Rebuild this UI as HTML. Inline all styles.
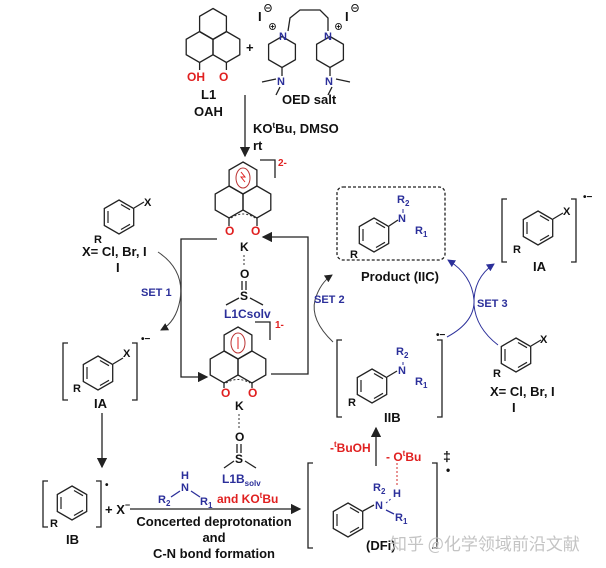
<!DOCTYPE html>
<html><head><meta charset="utf-8"><style>
html,body{margin:0;padding:0;background:#fff;}
svg{display:block;font-family:"Liberation Sans","Noto Sans CJK SC",sans-serif;font-weight:bold;}
.b{fill:none;stroke:#222;stroke-width:1.3}
.bl{fill:#2b2f9a}.rd{fill:#e02020}.k{fill:#111}
</style></head><body>
<svg width="606" height="568" viewBox="0 0 606 568" xmlns="http://www.w3.org/2000/svg">
<defs>
<polygon id="h" points="0,-15.5 13.4,-7.75 13.4,7.75 0,15.5 -13.4,7.75 -13.4,-7.75" fill="none" stroke="#222" stroke-width="1.3"/>
<polygon id="hs" points="0,-16 13.9,-8 13.9,8 0,16 -13.9,8 -13.9,-8" fill="none" stroke="#222" stroke-width="1.3"/>
<g id="ar6"><polygon points="0,-17 14.7,-8.5 14.7,8.5 0,17 -14.7,8.5 -14.7,-8.5" fill="none" stroke="#222" stroke-width="1.3"/>
<line x1="2" y1="-12.5" x2="11" y2="-7.3" stroke="#222" stroke-width="1.2"/><line x1="11" y1="7.3" x2="2" y2="12.5" stroke="#222" stroke-width="1.2"/><line x1="-11" y1="-6" x2="-11" y2="6" stroke="#222" stroke-width="1.2"/></g>
<marker id="ar" markerWidth="8" markerHeight="8" refX="7" refY="4" orient="auto"><path d="M0,0 L8,4 L0,8z" fill="#222"/></marker>
<marker id="ab" markerWidth="8" markerHeight="8" refX="7" refY="4" orient="auto"><path d="M0,0 L8,4 L0,8z" fill="#2b2f9a"/></marker>
</defs>

<!-- L1 OAH -->
<use href="#h" x="213" y="24"/><use href="#h" x="199.6" y="47"/><use href="#h" x="226.4" y="47"/>
<line class="b" x1="199.6" y1="62" x2="199.6" y2="70"/><line class="b" x1="226.4" y1="62" x2="226.4" y2="70"/>
<text x="187" y="81" font-size="12" class="rd">OH</text><text x="219" y="81" font-size="12" class="rd">O</text>
<text x="201" y="99" font-size="13" class="k">L1</text><text x="194" y="116" font-size="13" class="k">OAH</text>
<text x="246" y="52" font-size="13" class="k">+</text>
<!-- OED salt -->
<text x="258" y="21" font-size="13" class="k">I</text><text x="263" y="12" font-size="10" class="k">⊖</text>
<text x="345" y="21" font-size="13" class="k">I</text><text x="350" y="12" font-size="10" class="k">⊖</text>
<use href="#h" x="282" y="52"/><use href="#h" x="330" y="52"/>
<text x="279" y="40" font-size="11" class="bl">N</text><text x="324" y="40" font-size="11" class="bl">N</text>
<text x="268" y="30" font-size="9" class="k">⊕</text><text x="334" y="30" font-size="9" class="k">⊕</text>
<polyline class="b" points="288,31 290,18 300,10 320,10 328,18 328,31"/>
<line class="b" x1="282" y1="67" x2="282" y2="76"/><line class="b" x1="330" y1="67" x2="330" y2="76"/>
<text x="277" y="85" font-size="11" class="bl">N</text><text x="325" y="85" font-size="11" class="bl">N</text>
<line class="b" x1="262" y1="82" x2="276" y2="79"/><line class="b" x1="280" y1="87" x2="276" y2="95"/>
<line class="b" x1="336" y1="79" x2="350" y2="82"/><line class="b" x1="332" y1="87" x2="328" y2="95"/>
<text x="282" y="104" font-size="13" class="k">OED salt</text>
<!-- reagent arrow -->
<line class="b" x1="245" y1="95" x2="245" y2="156" marker-end="url(#ar)"/>
<text x="253" y="133" font-size="13" class="k">KO<tspan font-size="8" dy="-5">t</tspan><tspan dy="5">Bu, DMSO</tspan></text>
<text x="253" y="150" font-size="13" class="k">rt</text>

<!-- central L1C -->
<use href="#hs" x="243" y="178"/><use href="#hs" x="229.1" y="202"/><use href="#hs" x="256.9" y="202"/>
<ellipse cx="243" cy="178" rx="7" ry="10" fill="none" stroke="#b33" stroke-width="1"/>
<path d="M241,172 l4,5 l-4,0 l4,5" fill="none" stroke="#e02020" stroke-width="1"/>
<polyline class="b" points="260,160 275,160 275,178"/><text x="278" y="166" font-size="10" class="rd">2-</text>
<line class="b" x1="229" y1="218" x2="229" y2="226"/><line class="b" x1="257" y1="218" x2="257" y2="226"/>
<path d="M231,218 Q243,210 255,218" fill="none" stroke="#333" stroke-dasharray="2,2"/>
<text x="225" y="235" font-size="12" class="rd">O</text><text x="251" y="235" font-size="12" class="rd">O</text>
<text x="240" y="251" font-size="12" class="k">K</text>
<line x1="244" y1="255" x2="244" y2="267" stroke="#333" stroke-dasharray="2,2"/>
<text x="240" y="278" font-size="12" class="k">O</text>
<line class="b" x1="242" y1="281" x2="242" y2="290"/><line class="b" x1="246" y1="281" x2="246" y2="290"/>
<text x="240" y="300" font-size="12" class="k">S</text>
<line class="b" x1="239" y1="298" x2="226" y2="305"/><line class="b" x1="250" y1="298" x2="263" y2="305"/>
<text x="224" y="318" font-size="12" class="bl">L1Csolv</text>

<!-- cycle lines -->
<polyline class="b" points="217,239 181,239 181,377 207,377" marker-end="url(#ar)"/>
<polyline class="b" points="271,374 308,374 308,237 263,237" marker-end="url(#ar)"/>

<!-- L1B -->
<use href="#hs" x="238" y="343"/><use href="#hs" x="224.1" y="367"/><use href="#hs" x="251.9" y="367"/>
<ellipse cx="238" cy="343" rx="7" ry="10" fill="none" stroke="#b33" stroke-width="1"/>
<line x1="238" y1="337" x2="238" y2="349" stroke="#e02020"/>
<polyline class="b" points="255,322 270,322 270,340"/><text x="275" y="328" font-size="10" class="rd">1-</text>
<line class="b" x1="224" y1="383" x2="224" y2="388"/><line class="b" x1="252" y1="383" x2="252" y2="388"/>
<path d="M226,383 Q238,376 250,383" fill="none" stroke="#333" stroke-dasharray="2,2"/>
<text x="221" y="397" font-size="12" class="rd">O</text><text x="248" y="397" font-size="12" class="rd">O</text>
<text x="235" y="410" font-size="12" class="k">K</text>
<line x1="239" y1="414" x2="239" y2="428" stroke="#333" stroke-dasharray="2,2"/>
<text x="235" y="441" font-size="12" class="k">O</text>
<line class="b" x1="237" y1="444" x2="237" y2="453"/><line class="b" x1="241" y1="444" x2="241" y2="453"/>
<text x="235" y="463" font-size="12" class="k">S</text>
<line class="b" x1="234" y1="461" x2="224" y2="468"/><line class="b" x1="245" y1="461" x2="256" y2="468"/>
<text x="222" y="483" font-size="12" class="bl">L1B<tspan font-size="8" dy="3">solv</tspan></text>

<!-- left aryl -->
<use href="#ar6" x="119" y="217"/>
<line class="b" x1="134" y1="208" x2="144" y2="202"/><text x="144" y="206" font-size="11" class="k">X</text>
<text x="94" y="243" font-size="11" class="k">R</text>
<text x="82" y="256" font-size="13" class="k">X= Cl, Br, I</text><text x="116" y="272" font-size="13" class="k">I</text>
<!-- SET1 -->
<path d="M158,252 Q185,270 180,300 Q176,322 161,330" fill="none" stroke="#444" stroke-width="1" marker-end="url(#ar)"/>
<text x="141" y="296" font-size="11" class="bl">SET 1</text>
<!-- IA left -->
<polyline class="b" points="68,343 63,343 63,400 68,400"/><polyline class="b" points="132,343 137,343 137,400 132,400"/>
<text x="141" y="342" font-size="10" class="k">•−</text>
<use href="#ar6" x="98" y="373"/>
<line class="b" x1="113" y1="364" x2="123" y2="358"/><text x="123" y="357" font-size="11" class="k">X</text>
<text x="73" y="392" font-size="11" class="k">R</text>
<text x="94" y="408" font-size="13" class="k">IA</text>
<line class="b" x1="102" y1="413" x2="102" y2="467" marker-end="url(#ar)"/>
<!-- IB -->
<polyline class="b" points="48,481 43,481 43,527 48,527"/><polyline class="b" points="96,481 101,481 101,527 96,527"/>
<text x="105" y="488" font-size="10" class="k">•</text>
<use href="#ar6" x="72" y="503"/>
<text x="50" y="527" font-size="11" class="k">R</text>
<text x="66" y="544" font-size="13" class="k">IB</text>
<text x="105" y="514" font-size="13" class="k">+ X<tspan font-size="9" dy="-6">−</tspan></text>
<!-- amine & arrow -->
<text x="181" y="479" font-size="11" class="bl">H</text><text x="181" y="491" font-size="11" class="bl">N</text>
<line class="b" x1="171" y1="497" x2="180" y2="491" style="stroke:#2b2f9a"/>
<line class="b" x1="191" y1="491" x2="200" y2="497" style="stroke:#2b2f9a"/>
<text x="158" y="503" font-size="11" class="bl">R<tspan font-size="8" dy="3">2</tspan></text>
<text x="200" y="505" font-size="11" class="bl">R<tspan font-size="8" dy="3">1</tspan></text>
<text x="217" y="503" font-size="12" class="rd">and KO<tspan font-size="8" dy="-5">t</tspan><tspan dy="5">Bu</tspan></text>
<line class="b" x1="130" y1="509" x2="300" y2="509" marker-end="url(#ar)"/>
<text x="214" y="526" font-size="13" class="k" text-anchor="middle">Concerted deprotonation</text>
<text x="214" y="542" font-size="13" class="k" text-anchor="middle">and</text>
<text x="214" y="558" font-size="13" class="k" text-anchor="middle">C-N bond formation</text>

<!-- DFi -->
<polyline class="b" points="313,463 308,463 308,548 313,548"/><polyline class="b" points="432,463 437,463 437,548 432,548"/>
<text x="443" y="461" font-size="14" class="k">‡</text><text x="446" y="474" font-size="12" class="k">•</text>
<use href="#ar6" x="348" y="520"/>
<line class="b" x1="363" y1="511" x2="374" y2="505"/>
<text x="375" y="509" font-size="11" class="bl">N</text>
<text x="373" y="491" font-size="11" class="bl">R<tspan font-size="8" dy="3">2</tspan></text>
<line x1="386" y1="503" x2="392" y2="498" stroke="#2b2f9a" stroke-dasharray="2,2"/>
<text x="393" y="497" font-size="11" class="bl">H</text>
<line class="b" x1="386" y1="510" x2="394" y2="514" style="stroke:#2b2f9a"/>
<text x="395" y="521" font-size="11" class="bl">R<tspan font-size="8" dy="3">1</tspan></text>
<line x1="397" y1="463" x2="397" y2="486" stroke="#e07070" stroke-width="1.5" stroke-dasharray="2,2"/>
<text x="386" y="461" font-size="12" class="rd">- O<tspan font-size="8" dy="-5">t</tspan><tspan dy="5">Bu</tspan></text>
<text x="330" y="452" font-size="12" class="rd">-<tspan font-size="8" dy="-5">t</tspan><tspan dy="5">BuOH</tspan></text>
<line class="b" x1="376" y1="466" x2="376" y2="428" marker-end="url(#ar)"/>
<text x="366" y="550" font-size="13" class="k">(DFi)</text>

<!-- IIB -->
<polyline class="b" points="342,340 337,340 337,417 342,417"/><polyline class="b" points="437,340 442,340 442,417 437,417"/>
<text x="436" y="338" font-size="10" class="k">•−</text>
<use href="#ar6" x="372" y="386"/>
<line class="b" x1="387" y1="377" x2="397" y2="371"/>
<text x="398" y="374" font-size="11" class="bl">N</text>
<line x1="403" y1="362" x2="403" y2="365" stroke="#2b2f9a"/>
<text x="396" y="355" font-size="11" class="bl">R<tspan font-size="8" dy="3">2</tspan></text>
<text x="415" y="385" font-size="11" class="bl">R<tspan font-size="8" dy="3">1</tspan></text>
<text x="348" y="406" font-size="11" class="k">R</text>
<text x="384" y="422" font-size="13" class="k">IIB</text>
<!-- SET2 -->
<path d="M333,342 Q310,320 315,300 Q320,283 332,275" fill="none" stroke="#444" stroke-width="1" marker-end="url(#ar)"/>
<text x="314" y="303" font-size="11" class="bl">SET 2</text>
<!-- product -->
<rect x="337" y="187" width="108" height="73" rx="6" fill="none" stroke="#222" stroke-dasharray="3,2" stroke-width="1.3"/>
<use href="#ar6" x="374" y="235"/>
<line class="b" x1="389" y1="226" x2="398" y2="220"/>
<text x="398" y="222" font-size="11" class="bl">N</text>
<line x1="403" y1="209" x2="403" y2="213" stroke="#2b2f9a"/>
<text x="397" y="203" font-size="11" class="bl">R<tspan font-size="8" dy="3">2</tspan></text>
<text x="415" y="234" font-size="11" class="bl">R<tspan font-size="8" dy="3">1</tspan></text>
<text x="350" y="258" font-size="11" class="k">R</text>
<text x="361" y="281" font-size="13" class="k">Product (IIC)</text>
<!-- SET3 -->
<path d="M447,337 Q475,322 474,300 Q472,275 448,260" fill="none" stroke="#2b2f9a" stroke-width="1" marker-end="url(#ab)"/>
<path d="M498,345 Q476,328 474,305 Q473,278 494,264" fill="none" stroke="#2b2f9a" stroke-width="1" marker-end="url(#ab)"/>
<text x="477" y="307" font-size="11" class="bl">SET 3</text>
<!-- IA right -->
<polyline class="b" points="507,199 502,199 502,262 507,262"/><polyline class="b" points="571,199 576,199 576,262 571,262"/>
<text x="583" y="200" font-size="10" class="k">•−</text>
<use href="#ar6" x="538" y="228"/>
<line class="b" x1="553" y1="219" x2="563" y2="213"/><text x="563" y="215" font-size="11" class="k">X</text>
<text x="513" y="253" font-size="11" class="k">R</text>
<text x="533" y="271" font-size="13" class="k">IA</text>
<!-- right aryl -->
<use href="#ar6" x="516" y="355"/>
<line class="b" x1="531" y1="346" x2="541" y2="340"/><text x="540" y="343" font-size="11" class="k">X</text>
<text x="493" y="377" font-size="11" class="k">R</text>
<text x="490" y="396" font-size="13" class="k">X= Cl, Br, I</text><text x="512" y="412" font-size="13" class="k">I</text>
<!-- watermark -->
<text x="390" y="550" font-size="17" font-weight="normal" fill="#c4c4c4" style="font-family:'Noto Sans CJK SC',sans-serif">知乎 @化学领域前沿文献</text>
</svg>
</body></html>
